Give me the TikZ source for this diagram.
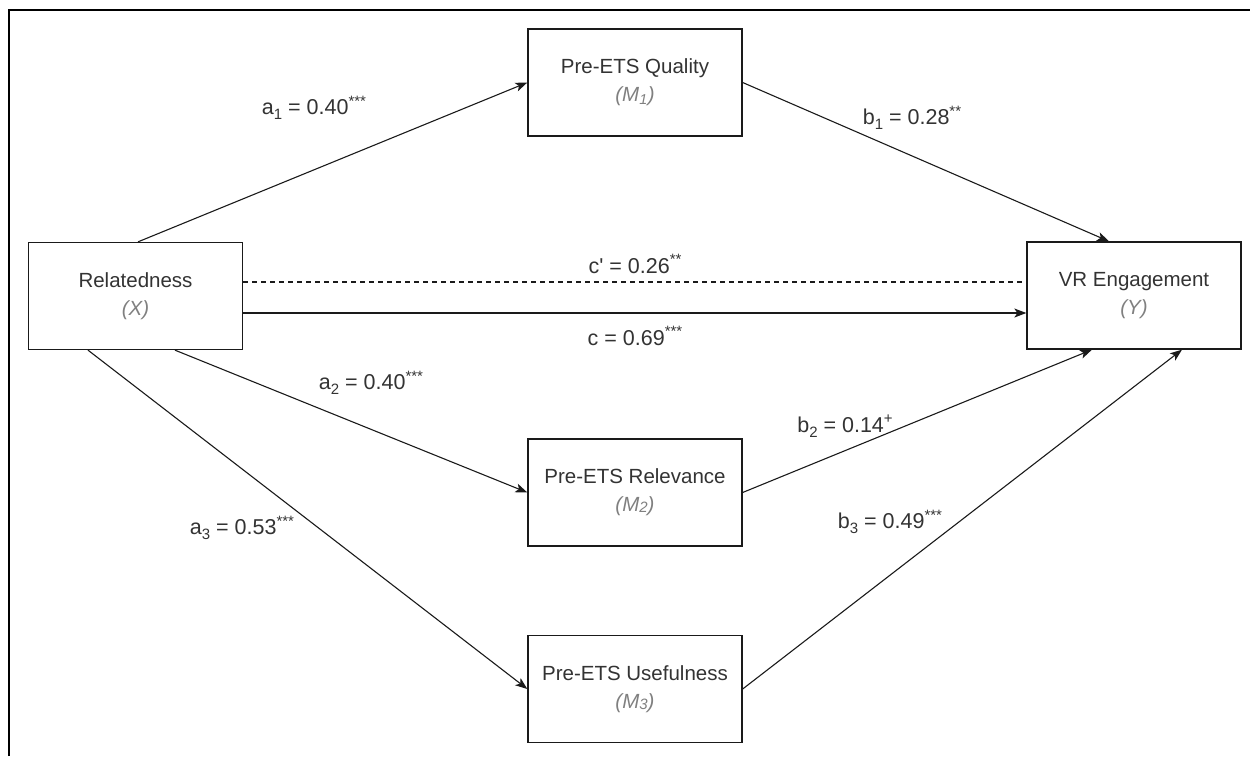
\documentclass[tikz,border=0pt]{standalone}
\usepackage{fontspec}
\setmainfont{Liberation Sans}
\usetikzlibrary{arrows.meta}
\definecolor{txt}{HTML}{333333}
\definecolor{subtxt}{HTML}{808080}
\definecolor{ln}{HTML}{1A1A1A}
\tikzset{
  var/.style={draw=ln, line width=1.3pt, rectangle, minimum width=214pt, minimum height=107pt,
    align=center, text=txt, font=\fontsize{20.5}{28}\selectfont, inner sep=0pt},
  path/.style={draw=ln, line width=1.1pt, -{Stealth[length=12pt,width=9pt,inset=3pt]}},
  coef/.style={text=txt, font=\fontsize{21.5}{24}\selectfont, inner sep=0pt},
}
\newcommand{\sublab}[1]{{\color{subtxt}\itshape #1}}
\newcommand{\lo}[1]{\raisebox{-0.45ex}{\fontsize{15}{15}\selectfont #1}}
\newcommand{\hi}[1]{\raisebox{0.75ex}{\fontsize{15}{15}\selectfont #1}}
\begin{document}
\begin{tikzpicture}[x=1pt,y=-1pt]
\useasboundingbox (0,0) rectangle (1250,756);
\draw[line width=2pt, black] (9,756) -- (9,10) -- (1250,10);

\node[var] (X)  at (135.5,296) {Relatedness\\\sublab{(X)}};
\node[var] (M1) at (635,82.5) {Pre-ETS Quality\\\sublab{(M\textsubscript{1})}};
\node[var] (Y)  at (1134,295.5) {VR Engagement\\\sublab{(Y)}};
\node[var] (M2) at (635,492.5) {Pre-ETS Relevance\\\sublab{(M\raisebox{-0.1ex}{\fontsize{15}{15}\selectfont 2})}};
\node[var] (M3) at (635,689) {Pre-ETS Usefulness\\\sublab{(M\raisebox{-0.1ex}{\fontsize{15}{15}\selectfont 3})}};

\draw[path] ([xshift=2.5pt]X.north) -- (M1.west);
\draw[path] (M1.east) -- ([xshift=-25pt]Y.north);
\draw[draw=ln, line width=1.1pt, dashed, dash pattern=on 5pt off 4pt] ([yshift=14pt]X.east) -- ([yshift=13.5pt]Y.west);
\draw[path] ([yshift=-17pt]X.east) -- ([yshift=-17.5pt]Y.west);
\draw[path] ([xshift=39.5pt]X.south) -- (M2.west);
\draw[path] ([xshift=-47.5pt]X.south) -- (M3.west);
\draw[path] (M2.east) -- ([xshift=-42pt]Y.south);
\draw[path] (M3.east) -- ([xshift=48pt]Y.south);

\node[coef] (la1) at (314,108) {a\lo{1} = 0.40\hi{***}};
\node[coef] (lb1) at (912,118) {b\lo{1} = 0.28\hi{**}};
\node[coef] (lcp) at (635,264) {c\textquotesingle{} = 0.26\hi{**}};
\node[coef] (lc)  at (635,336) {c = 0.69\hi{***}};
\node[coef] (la2) at (371,383) {a\lo{2} = 0.40\hi{***}};
\node[coef] (lb2) at (845,426) {b\lo{2} = 0.14\hi{+}};
\node[coef] (la3) at (242,528) {a\lo{3} = 0.53\hi{***}};
\node[coef] (lb3) at (890,522) {b\lo{3} = 0.49\hi{***}};
\end{tikzpicture}
\end{document}
